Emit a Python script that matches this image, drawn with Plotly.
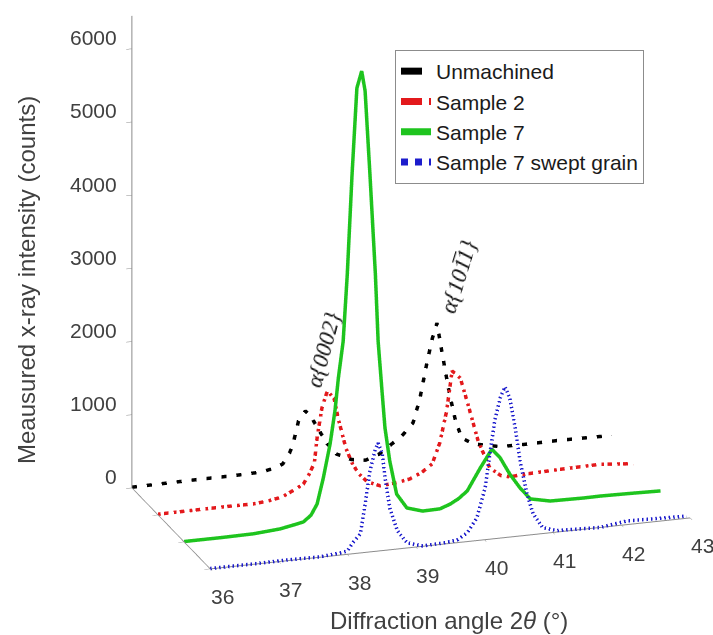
import plotly.graph_objects as go

# ---------------- data ----------------
x_unmachined = [36.0, 36.5, 37.0, 37.5, 37.9, 38.1, 38.2, 38.3, 38.35, 38.43, 38.53, 38.62, 38.72,
                38.85, 38.98, 39.2, 39.41, 39.6, 39.77, 39.95, 40.1, 40.2, 40.3, 40.38, 40.45,
                40.52, 40.58, 40.64, 40.72, 40.81, 40.98, 41.37, 41.7, 42.2, 42.7, 43.0]
z_unmachined = [10, 15, 20, 20, 30, 70, 108, 250, 366, 673, 800, 700, 530,
                320, 168, 70, 40, 100, 210, 330, 480, 800, 1265, 1600, 1810,
                1420, 1100, 790, 450, 205, 105, 30, 25, 30, 25, 20]

x_sample2 = [36.0, 36.43, 37.0, 37.39, 37.6, 37.81, 38.0, 38.12, 38.2, 38.28, 38.32, 38.39, 38.47,
             38.57, 38.63, 38.74, 38.83, 38.92, 39.05, 39.24, 39.45, 39.67, 39.85, 40.0, 40.11,
             40.21, 40.29, 40.41, 40.52, 40.67, 40.84, 41.0, 41.13, 41.38, 41.9, 42.45, 42.93]
z_sample2 = [10, 12, 15, 12, 30, 65, 150, 210, 330, 480, 820, 1220, 1450,
             1330, 1050, 640, 430, 280, 150, 75, 90, 125, 200, 300, 575,
             1000, 1540, 1430, 1065, 545, 160, 40, 10, 25, 40, 50, 10]

x_sample7 = [36.0, 36.53, 37.01, 37.4, 37.65, 37.74, 37.85, 37.94, 38.03, 38.13, 38.2, 38.25, 38.32,
             38.38, 38.45, 38.52, 38.59, 38.64, 38.71, 38.79, 38.83, 38.89, 38.93, 39.0, 39.1,
             39.25, 39.48, 39.73, 39.88, 40.0, 40.13, 40.32, 40.49, 40.61, 40.75, 40.9, 41.05,
             41.34, 41.82, 42.07, 42.5, 42.95]
z_sample7 = [5, 5, 10, 38, 82, 100, 180, 325, 670, 1130, 1570, 2015, 2510,
             3420, 4780, 5950, 6175, 5900, 4760, 3380, 2460, 1735, 1265, 805, 345,
             140, 75, 80, 130, 190, 285, 580, 820, 690, 455, 250, 85,
             27, 20, 22, 15, 5]

x_swept = [36.0, 36.63, 37.12, 37.6, 37.9, 38.0, 38.08, 38.19, 38.26, 38.33, 38.41, 38.45, 38.51,
           38.55, 38.62, 38.73, 38.87, 39.1, 39.4, 39.6, 39.75, 39.89, 40.01, 40.08, 40.15,
           40.23, 40.3, 40.37, 40.45, 40.52, 40.62, 40.71, 40.85, 41.06, 41.69, 42.08, 42.5, 42.95]
z_swept = [5, 5, 10, 5, 30, 45, 150, 260, 660, 1105, 1400, 1475, 1320,
           990, 570, 250, 70, 5, 15, 35, 120, 310, 705, 1165, 1610,
           1915, 2060, 1900, 1480, 1025, 565, 285, 80, 20, 0, 50, 40, 30]

series_names = ["Unmachined", "Sample 2", "Sample 7", "Sample 7 swept grain"]
series_depth = [3, 2, 1, 0]
x_ticks = [36, 37, 38, 39, 40, 41, 42, 43]
z_ticks = [0, 1000, 2000, 3000, 4000, 5000, 6000]

# ---------------- styling ----------------
colors = ["#000000", "#e3191c", "#1ec41e", "#1c1ccc"]
dashes = ["dash", "dashdot", "solid", "dot"]
widths = [7, 7, 7, 7]

xs = [x_unmachined, x_sample2, x_sample7, x_swept]
zs = [z_unmachined, z_sample2, z_sample7, z_swept]

fig = go.Figure()
for i in range(4):
    fig.add_trace(go.Scatter3d(
        x=xs[i], y=[series_depth[i]] * len(xs[i]), z=zs[i],
        mode="lines", name=series_names[i],
        line=dict(color=colors[i], width=widths[i], dash=dashes[i]),
        hoverinfo="skip",
    ))

axis_common = dict(showgrid=False, showbackground=False, zeroline=False, showspikes=False,
                   showline=True, linecolor="#8c8c8c", linewidth=2,
                   ticks="outside", tickcolor="#8c8c8c", ticklen=6,
                   showticklabels=False, title=dict(text=""))

tick_font = dict(family="Liberation Sans", size=21, color="#404040")
scene_ann = []
for t in x_ticks:
    scene_ann.append(dict(x=t, y=0, z=0, text=str(t), showarrow=False,
                          xanchor="center", yanchor="middle", xshift=12, yshift=-28,
                          font=tick_font))
for t in z_ticks:
    scene_ann.append(dict(x=36, y=3, z=t, text=str(t), showarrow=False,
                          xanchor="right", yanchor="middle", xshift=-13, yshift=11,
                          font=tick_font))

k = 1.587
fig.update_layout(
    width=713, height=635,
    margin=dict(l=0, r=0, t=0, b=0),
    paper_bgcolor="white",
    scene=dict(
        domain=dict(x=[0.153, 1.0], y=[0.0, 1.0]),
        xaxis=dict(axis_common, range=[36, 43], tickvals=x_ticks),
        yaxis=dict(axis_common, range=[0, 3], tickvals=[0, 1, 2, 3]),
        zaxis=dict(axis_common, range=[0, 6450], tickvals=z_ticks),
        aspectmode="manual", aspectratio=dict(x=1 * k, y=0.509 * k, z=0.993 * k),
        camera=dict(projection=dict(type="orthographic"),
                    up=dict(x=0, y=0, z=1), center=dict(x=0, y=0, z=-0.169),
                    eye=dict(x=-0.288 * 2, y=-0.8985 * 2, z=0.3315 * 2 - 0.169)),
        annotations=scene_ann,
    ),
    legend=dict(x=395 / 713, y=1 - 50 / 635, xanchor="left", yanchor="top",
                bordercolor="#8c8c8c", borderwidth=1, bgcolor="white",
                font=dict(family="Liberation Sans", size=21, color="#1a1a1a"),
                itemwidth=30),
    annotations=[
        dict(text="Diffraction angle 2<i>θ</i> (°)", x=449 / 713, y=1 - 620 / 635,
             xref="paper", yref="paper", xanchor="center", yanchor="middle", showarrow=False,
             font=dict(family="Liberation Sans", size=24, color="#404040")),
        dict(text="Meausured x-ray intensity (counts)", x=26 / 713, y=1 - 280 / 635,
             xref="paper", yref="paper", xanchor="center", yanchor="middle", showarrow=False,
             textangle=-90,
             font=dict(family="Liberation Sans", size=24, color="#404040")),
        dict(text="<i>α{0002}</i>", x=323 / 713, y=1 - 350 / 635,
             xref="paper", yref="paper", xanchor="center", yanchor="middle", showarrow=False,
             textangle=-75,
             font=dict(family="Liberation Serif", size=23, color="#111111")),
        dict(text="<i>α{101̅1}</i>", x=458 / 713, y=1 - 277 / 635,
             xref="paper", yref="paper", xanchor="center", yanchor="middle", showarrow=False,
             textangle=-73,
             font=dict(family="Liberation Serif", size=23, color="#111111")),
    ],
)

fig.write_html("out.html", config={"displayModeBar": False},
               post_script="document.body.style.margin='0px';")
